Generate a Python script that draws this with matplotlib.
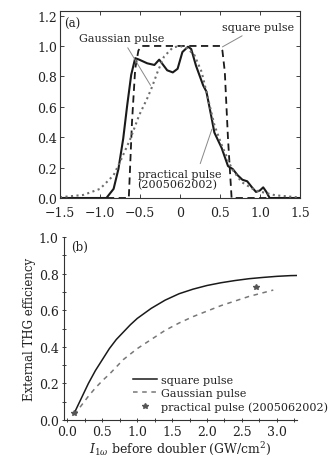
import numpy as np
import matplotlib
matplotlib.use("Agg")
import matplotlib.pyplot as plt

plt.rcParams['font.family'] = ['DejaVu Serif']
plt.rcParams['mathtext.fontset'] = 'dejavuserif'

# (a) pulse shapes, normalised intensity vs time
square_t = [-1.5, -0.64, -0.6, -0.56, -0.52, -0.48, 0.5, 0.53, 0.56, 0.60, 0.645, 1.5]
square_i = [0.0, 0.0, 0.5, 0.85, 0.97, 1.0, 1.0, 0.97, 0.83, 0.39, 0.0, 0.0]

gauss_t = [-1.5, -1.21, -1.0, -0.83, -0.73, -0.62, -0.51, -0.41, -0.35, -0.28, -0.2,
           -0.09, 0.0, 0.09, 0.18, 0.27, 0.35, 0.43, 0.52, 0.65, 0.77, 0.94, 1.19, 1.5]
gauss_i = [0.005, 0.02, 0.06, 0.15, 0.26, 0.39, 0.545, 0.655, 0.73, 0.83, 0.93,
           0.99, 1.0, 0.985, 0.94, 0.83, 0.655, 0.48, 0.35, 0.19, 0.105, 0.05, 0.018, 0.003]

real_t = [-1.5, -0.92, -0.83, -0.77, -0.71, -0.66, -0.61, -0.56, -0.51, -0.41, -0.32,
          -0.26, -0.16, -0.09, -0.03, 0.03, 0.1, 0.14, 0.2, 0.29, 0.33, 0.39, 0.43,
          0.52, 0.60, 0.66, 0.72, 0.78, 0.84, 0.90, 0.95, 1.0, 1.04, 1.08, 1.12, 1.5]
real_i = [0.0, 0.0, 0.06, 0.19, 0.39, 0.61, 0.81, 0.92, 0.91, 0.886, 0.875,
          0.91, 0.84, 0.826, 0.85, 0.96, 0.995, 0.98, 0.87, 0.74, 0.70, 0.54, 0.43,
          0.33, 0.21, 0.19, 0.15, 0.12, 0.11, 0.07, 0.04, 0.05, 0.07, 0.04, 0.0, 0.0]

# (b) THG efficiency vs fundamental intensity
sq_I = [0.1, 0.2, 0.3, 0.4, 0.5, 0.6, 0.7, 0.8, 0.9, 1.0, 1.2, 1.4, 1.6, 1.8, 2.0,
        2.2, 2.4, 2.6, 2.8, 3.0, 3.2, 3.33]
sq_eff = [0.04, 0.12, 0.20, 0.27, 0.33, 0.39, 0.44, 0.48, 0.52, 0.555, 0.61, 0.655,
          0.69, 0.715, 0.735, 0.75, 0.762, 0.772, 0.779, 0.785, 0.789, 0.79]

ga_I = [0.1, 0.2, 0.3, 0.4, 0.5, 0.6, 0.8, 1.0, 1.2, 1.4, 1.6, 1.8, 2.0, 2.2, 2.4,
        2.6, 2.8, 2.95]
ga_eff = [0.03, 0.08, 0.13, 0.175, 0.215, 0.25, 0.33, 0.39, 0.44, 0.49, 0.53, 0.565,
          0.595, 0.625, 0.65, 0.675, 0.695, 0.71]

pr_I = [0.1, 2.7]
pr_eff = [0.04, 0.725]

fig = plt.figure(figsize=(3.33, 4.64), dpi=100)
txt = '#222222'

# ---- panel (a)
ax = fig.add_axes([60 / 333, 1 - 199 / 464, 240 / 333, 187 / 464])
ax.plot(real_t, real_i, '-', color='#1a1a1a', lw=1.5)
ax.plot(square_t, square_i, '--', color='#1a1a1a', lw=1.3, dashes=(4, 2.5))
ax.plot(gauss_t, gauss_i, ':', color='#6e6e6e', lw=1.5)

ax.set_xlim(-1.5, 1.5)
ax.set_ylim(0, 1.23)
ax.set_xticks([-1.5, -1.0, -0.5, 0, 0.5, 1.0, 1.5])
ax.set_xticklabels(['\u22121.5', '\u22121.0', '\u22120.5', '0', '0.5', '1.0', '1.5'])
ax.set_yticks([0, 0.2, 0.4, 0.6, 0.8, 1.0, 1.2])
ax.set_yticklabels(['0.0', '0.2', '0.4', '0.6', '0.8', '1.0', '1.2'])
ax.tick_params(direction='in', top=True, right=True, length=3, width=0.6,
               labelsize=9, colors=txt, pad=2)
ax.tick_params(axis='x', pad=6)
for s in ax.spines.values():
    s.set_linewidth(0.8)
    s.set_color('#333333')

ax.text(-1.45, 1.15, '(a)', fontsize=8.5, color=txt, va='center')
leader = dict(arrowstyle='-', color='#888888', lw=0.7)
ax.annotate('Gaussian pulse', xy=(-0.35, 0.725), xytext=(-0.73, 1.055),
            fontsize=8, color=txt, ha='center', va='center', arrowprops=leader)
ax.annotate('square pulse', xy=(0.5, 0.985), xytext=(0.98, 1.127),
            fontsize=8, color=txt, ha='center', va='center', arrowprops=leader)
ax.annotate('practical pulse\n(2005062002)', xy=(0.41, 0.47), xytext=(-0.53, 0.125),
            fontsize=8, color=txt, ha='left', va='center', linespacing=0.95,
            arrowprops=dict(arrowstyle='-', color='#888888', lw=0.7,
                            relpos=(0.72, 0.9)))

# ---- panel (b)
bx = fig.add_axes([64 / 333, 1 - 421 / 464, 233 / 333, 183 / 464])
bx.plot(sq_I, sq_eff, '-', color='#1a1a1a', lw=1.1, label='square pulse')
bx.plot(ga_I, ga_eff, '--', color='#777777', lw=1.1, dashes=(3, 3), label='Gaussian pulse')
bx.plot(pr_I, pr_eff, '*', color='#555555', ms=4, ls='none',
        label='practical pulse (2005062002)')

bx.set_xlim(-0.05, 3.29)
bx.set_ylim(0, 1.0)
bx.set_xticks(np.arange(0, 3.01, 0.5))
bx.set_xticks(np.arange(0, 3.3, 0.25), minor=True)
bx.set_yticks(np.arange(0, 1.01, 0.2))
bx.set_yticks(np.arange(0, 1.01, 0.1), minor=True)
bx.xaxis.set_major_formatter(plt.FormatStrFormatter('%.1f'))
bx.yaxis.set_major_formatter(plt.FormatStrFormatter('%.1f'))
bx.tick_params(which='both', direction='inout', length=3.5, width=0.6,
               labelsize=9, colors=txt, pad=2)
bx.tick_params(which='minor', length=2.5)
bx.spines['top'].set_visible(False)
bx.spines['right'].set_visible(False)
for s in ['left', 'bottom']:
    bx.spines[s].set_linewidth(0.8)
    bx.spines[s].set_color('#333333')

bx.text(0.05, 0.95, '(b)', fontsize=8.5, color=txt, va='center')
bx.set_ylabel('External THG efficiency', fontsize=8.5, color=txt, labelpad=2)
bx.set_xlabel(r'$I_{1\omega}$ before doubler (GW/cm$^2$)', fontsize=9, color=txt,
              labelpad=1)
bx.legend(loc='lower right', bbox_to_anchor=(1.165, 0.0), frameon=False, fontsize=8,
          handlelength=2.2, handletextpad=0.3, labelspacing=0.3, borderpad=0.2,
          labelcolor=txt)

plt.savefig('out.png', dpi=100)
